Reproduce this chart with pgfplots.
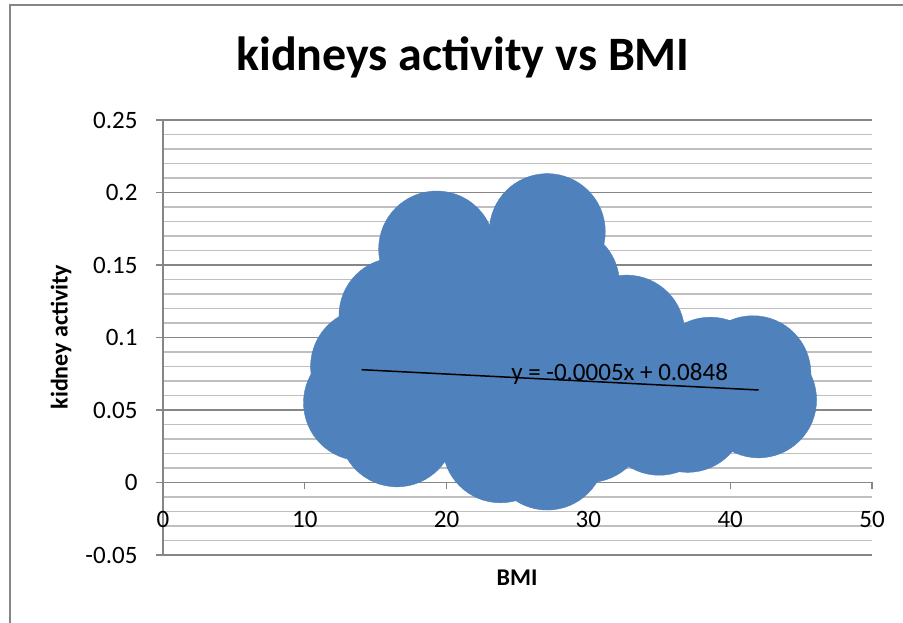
\documentclass[border=0pt]{standalone}
\usepackage{fontspec}
\setmainfont{Carlito}
\usepackage{pgfplots}
\pgfplotsset{compat=1.18}
\definecolor{xlblue}{HTML}{4F81BD}
\definecolor{gridmaj}{HTML}{868686}
\definecolor{gridmin}{HTML}{BFBFBF}
\begin{document}
\begin{tikzpicture}
\path[use as bounding box] (0,0) rectangle (903pt,623pt);
\draw[gridmaj, line width=1.2pt] (10pt,0) -- (10pt,618pt) -- (903pt,618pt);
\begin{axis}[
    at={(163pt,68pt)}, anchor=south west,
    scale only axis, width=709pt, height=435pt,
    xmin=0, xmax=50, ymin=-0.05, ymax=0.25,
    axis y line=left, axis x line=middle,
    axis line style={-, gridmaj, line width=1.2pt},
    hide obscured x ticks=false,
    clip marker paths=true,
    xtick={0,10,...,50},
    ytick={-0.05,0,0.05,0.1,0.15,0.2,0.25},
    minor y tick num=4,
    ymajorgrids, yminorgrids,
    major grid style={gridmaj, line width=1.2pt},
    minor grid style={gridmin, line width=1.2pt},
    tick align=outside,
    major tick length=7pt, minor tick length=0pt,
    tick style={gridmaj, line width=1.2pt},
    /pgf/number format/assume math mode=true,
    /pgf/number format/fixed, /pgf/number format/precision=2,
    ticklabel style={font=\fontsize{25}{30}\selectfont},
    yticklabel style={anchor=east, xshift=-15pt},
    xticklabel style={anchor=north, yshift=-18pt},
]
% kidney activity against BMI
\addplot[only marks, mark=*, mark size=58pt,
    mark options={fill=xlblue, draw=xlblue}] coordinates {
    (14.0,0.055) (14.5,0.080) (16.5,0.115) (19.3,0.161)
    (27.1,0.173) (28.1,0.137) (32.7,0.103) (38.6,0.074)
    (41.6,0.075) (42.0,0.057) (35.0,0.045) (37.0,0.047)
    (27.1,0.021) (23.8,0.026) (16.5,0.037) (22.5,0.135)
    (18.0,0.070) (20.0,0.100) (22.0,0.060) (24.0,0.090)
    (26.0,0.120) (26.0,0.060) (29.0,0.080) (31.0,0.070)
    (30.0,0.040) (34.0,0.070) (36.0,0.070)
};
% linear trendline
\addplot[black, line width=1.5pt] coordinates {(14,0.0778) (42,0.0638)};
\node[font=\fontsize{25}{30}\selectfont] at (axis cs:32.2,0.0745) {y = -0.0005x + 0.0848};
\end{axis}
\node[font=\fontsize{48}{58}\selectfont\bfseries] at (463pt,566pt) {kidneys activity vs BMI};
\node[font=\fontsize{24}{29}\selectfont\bfseries, rotate=90] at (61pt,286pt) {kidney activity};
\node[font=\fontsize{24}{29}\selectfont\bfseries] at (517pt,45pt) {BMI};
\end{tikzpicture}
\end{document}
